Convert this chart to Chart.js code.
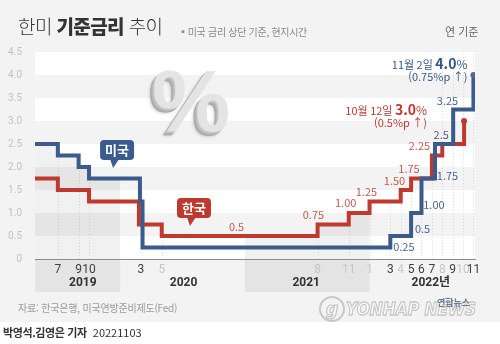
<!DOCTYPE html>
<html lang="ko">
<head>
<meta charset="utf-8">
<script src="https://cdn.jsdelivr.net/npm/chart.js@4.4.0/dist/chart.umd.min.js"></script>
<style>
  html, body { margin: 0; padding: 0; }
  body { width: 500px; height: 344px; position: relative; overflow: hidden; background: #fff;
         font-family: "Noto Sans CJK KR", "Noto Sans", sans-serif; }
  #panelis { position: absolute; left: 0; top: 0; width: 500px; height: 322px; background: #f3f3f3; }
  #grafiks { position: absolute; left: 0; top: 0; }
  .teksts { position: absolute; white-space: nowrap; line-height: 1; }
  #virsraksts { left: 18px; top: 16px; font-size: 19px; color: #333; letter-spacing: -0.6px; }
  #virsraksts b { font-weight: 900; }
  #virsraksts span { font-weight: 300; }
  #piezime { left: 178px; top: 27px; font-size: 10px; color: #8a8a8a; letter-spacing: -0.3px; }
  #vienibas { left: 445px; top: 26px; font-size: 11px; color: #666; }
  #avots { left: 18px; top: 303px; font-size: 10px; color: #9a9a9a; letter-spacing: -0.2px; }
  #autori { left: 3px; top: 327px; font-size: 11px; color: #333; }
  #autori b { font-weight: 700; letter-spacing: -0.4px; }
  #procenti { left: 152px; top: 57px; font-family: "Liberation Sans", sans-serif; font-weight: 700; font-size: 88px;
              color: #e4e4e4;
              text-shadow: -1px 1px 0 #cacaca, -2px 2px 0 #bebebe, -3px 3px 0 #b2b2b2, -4px 4px 0 #a8a8a8, -5px 5px 3px rgba(0,0,0,0.15); }
  #logo { left: 319px; top: 296px; width: 22px; height: 22px; border: 2px solid #c8c8c8; border-radius: 50%;
          font-family: "DejaVu Sans", sans-serif; font-style: italic; font-weight: 700; font-size: 17px;
          color: rgba(255,255,255,0.7); -webkit-text-stroke: 1.2px #c4c4c4; text-align: center; line-height: 22px; }
  #zime { left: 346px; top: 300px; font-family: "DejaVu Sans", sans-serif; font-weight: 700; font-style: italic;
          font-size: 18px; color: rgba(255,255,255,0.6); -webkit-text-stroke: 1.3px #c6c6c6;
          transform: scaleX(0.86); transform-origin: left top; }
  #zime2 { left: 437px; top: 298px; font-size: 9px; font-weight: 700; color: #6b7e98; }
</style>
</head>
<body>
<div id="panelis"></div>
<canvas id="grafiks" width="500" height="344"></canvas>
<div class="teksts" id="virsraksts"><span>한미 </span><b>기준금리</b><span> 추이</span></div>
<div class="teksts" id="piezime">▪미국 금리 상단 기준, 현지시간</div>
<div class="teksts" id="vienibas">연 기준</div>
<div class="teksts" id="procenti">%</div>
<div class="teksts" id="avots">자료: 한국은행, 미국연방준비제도(Fed)</div>
<div class="teksts" id="logo">g</div>
<div class="teksts" id="zime">YONHAP NEWS</div>
<div class="teksts" id="zime2">연합뉴스</div>
<div class="teksts" id="autori"><b>박영석.김영은 기자</b>&nbsp; 20221103</div>
<script>
// Months are counted from January 2019 = 1, so January 2020 = 13 and so on.
const usMonths = [4.8, 7, 9, 10, 14.9, 15.15, 39, 41, 42, 43.3, 45.05, 47];
const usRates = [2.5, 2.25, 2.0, 1.75, 1.25, 0.25, 0.5, 1.0, 1.75, 2.5, 3.25, 4.0];

const krMonths = [4.8, 7, 10, 14.8, 17, 32, 35, 37, 40, 41, 43, 44, 46.1];
const krRates = [1.75, 1.5, 1.25, 0.75, 0.5, 0.75, 1.0, 1.25, 1.5, 1.75, 2.25, 2.5, 3.0];

// Month ticks under the axis.
const tickMonths = [7, 9, 10, 15, 17, 32, 35, 37, 39, 40, 41, 42, 43, 44, 45, 46, 47];
const tickTexts = ["7", "9", "10", "3", "5", "8", "11", "1", "3", "4", "5", "6", "7", "8", "9", "10", "11"];
const faintMonths = [17, 32, 35, 37, 40, 44, 46];

// Years.
const yearNames = ["2019", "2020", "2021", "2022년"];
const yearCenters = [9.4, 19.1, 30.9, 42.9];
const shadedYears = [[4.8, 13], [25, 37]];

// Y-axis ticks.
const rateTicks = [0, 0.5, 1, 1.5, 2, 2.5, 3, 3.5, 4, 4.5];

const zils = "#3b5b8c";
const sarkans = "#c0392f";

// Value labels next to the steps (anchor in month / rate units).
const vertibuUzraksti = [
    { t: "0.5", m: 24.2, v: 0.70, k: "#c45a4e" },
    { t: "0.75", m: 31.6, v: 0.96, k: "#c45a4e" },
    { t: "1.00", m: 34.7, v: 1.22, k: "#c45a4e" },
    { t: "1.25", m: 36.7, v: 1.46, k: "#c45a4e" },
    { t: "1.50", m: 39.4, v: 1.70, k: "#c45a4e" },
    { t: "1.75", m: 40.8, v: 1.96, k: "#c45a4e" },
    { t: "2.25", m: 41.8, v: 2.46, k: "#c45a4e" },
    { t: "0.25", m: 40.3, v: 0.26, k: "#4b6590" },
    { t: "0.5", m: 42.1, v: 0.65, k: "#4b6590" },
    { t: "1.00", m: 43.2, v: 1.17, k: "#4b6590" },
    { t: "1.75", m: 44.5, v: 1.80, k: "#4b6590" },
    { t: "2.5", m: 43.9, v: 2.70, k: "#57568a" },
    { t: "3.25", m: 44.5, v: 3.43, k: "#4b6590" }
];

// Callout boxes.
const izcelumi = [
    { t: "미국", m: 12.7, v: 2.37, k: zils },
    { t: "한국", m: 20.1, v: 1.11, k: sarkans }
];

// Function returns the step value of a series at a month.
function vertibaMenesi(menesi, vertibas, m) {
    let rezultats = vertibas[0];
    for (let i = 0; i < menesi.length; i++) {
        if (menesi[i] <= m) rezultats = vertibas[i];
    }
    return rezultats;
}

function punkti(menesi, vertibas) {
    return menesi.map((m, i) => ({ x: m, y: vertibas[i] }));
}

// Background plugin: stripes, shaded years, grid lines, year names.
const fonaSpraudnis = {
    id: "fons",
    beforeDraw(chart) {
        const { ctx, chartArea, scales } = chart;
        const x = scales.x;
        ctx.save();
        // Shaded year blocks below the axis (drawn before the tick labels).
        ctx.fillStyle = "#e4e4e4";
        shadedYears.forEach(([no, lidz]) => {
            const a = x.getPixelForValue(no);
            const b = x.getPixelForValue(lidz);
            ctx.fillRect(a, chartArea.bottom, b - a, 33);
        });
        ctx.restore();
    },
    beforeDatasetsDraw(chart) {
        const { ctx, chartArea, scales } = chart;
        const x = scales.x;
        const y = scales.y;
        ctx.save();

        // White bands every other half point.
        ctx.fillStyle = "#ffffff";
        for (let i = 0; i < rateTicks.length - 1; i += 2) {
            const augsa = y.getPixelForValue(rateTicks[i + 1]);
            const apaksa = y.getPixelForValue(rateTicks[i]);
            ctx.fillRect(chartArea.left, augsa, chartArea.right - chartArea.left, apaksa - augsa);
        }

        // Shaded area under the upper line in these years.
        shadedYears.forEach(([no, lidz], n) => {
            const meta = chart.getDatasetMeta(n === 0 ? 0 : 1);
            const a = x.getPixelForValue(no);
            const b = x.getPixelForValue(lidz);
            ctx.save();
            ctx.beginPath();
            ctx.rect(a, chartArea.top, b - a, chartArea.bottom - chartArea.top);
            ctx.clip();
            const p = meta.data;
            ctx.beginPath();
            ctx.moveTo(p[0].x, chartArea.bottom);
            ctx.lineTo(p[0].x, p[0].y);
            for (let i = 1; i < p.length; i++) {
                ctx.lineTo(p[i].x, p[i - 1].y);
                ctx.lineTo(p[i].x, p[i].y);
            }
            ctx.lineTo(p[p.length - 1].x, chartArea.bottom);
            ctx.closePath();
            ctx.fillStyle = "rgba(0,0,0,0.055)";
            ctx.fill();
            ctx.restore();
        });

        // Dotted lines from the axis up to the steps.
        ctx.strokeStyle = "rgba(0,0,0,0.12)";
        ctx.lineWidth = 1;
        ctx.setLineDash([1, 2]);
        tickMonths.forEach(m => {
            let augsa = chartArea.top;
            if (m < 44) {
                const v = Math.max(
                    vertibaMenesi(usMonths, usRates, m), vertibaMenesi(usMonths, usRates, m - 0.2),
                    vertibaMenesi(krMonths, krRates, m), vertibaMenesi(krMonths, krRates, m - 0.2));
                augsa = y.getPixelForValue(v);
            }
            const px = Math.round(x.getPixelForValue(m)) + 0.5;
            ctx.beginPath();
            ctx.moveTo(px, chartArea.bottom);
            ctx.lineTo(px, augsa);
            ctx.stroke();
        });
        ctx.setLineDash([]);

        // Year names.
        ctx.fillStyle = "#333";
        ctx.font = "700 12px Roboto, 'Noto Sans CJK KR'";
        ctx.textAlign = "center";
        ctx.textBaseline = "middle";
        yearNames.forEach((t, i) => {
            ctx.fillText(t, x.getPixelForValue(yearCenters[i]), chartArea.bottom + 24);
        });
        ctx.restore();
    }
};

// Foreground plugin: value labels, callouts and the final notes.
const uzrakstuSpraudnis = {
    id: "uzraksti",
    afterDatasetsDraw(chart) {
        const { ctx, scales } = chart;
        const x = scales.x;
        const y = scales.y;
        ctx.save();
        ctx.textAlign = "center";
        ctx.textBaseline = "middle";
        ctx.font = "400 11px 'Noto Sans CJK KR'";
        vertibuUzraksti.forEach(u => {
            ctx.fillStyle = u.k;
            ctx.fillText(u.t, x.getPixelForValue(u.m), y.getPixelForValue(u.v));
        });

        // Callouts with a tail.
        izcelumi.forEach(c => {
            const cx = x.getPixelForValue(c.m);
            const cy = y.getPixelForValue(c.v);
            ctx.fillStyle = c.k;
            ctx.beginPath();
            ctx.roundRect(cx - 17, cy - 10, 34, 20, 4);
            ctx.fill();
            ctx.beginPath();
            ctx.moveTo(cx - 7, cy + 9);
            ctx.lineTo(cx + 2, cy + 9);
            ctx.lineTo(cx - 4, cy + 18);
            ctx.closePath();
            ctx.fill();
            ctx.fillStyle = "#fff";
            ctx.font = "700 13px 'Noto Sans CJK KR'";
            ctx.fillText(c.t, cx, cy + 0.5);
        });

        // Final notes next to the end points.
        const piezimes = [
            { meta: chart.getDatasetMeta(0), k: "#34588a", d: "11월 2일 ", v: "4.0", s: "(0.75%p ↑)", dx: -6 },
            { meta: chart.getDatasetMeta(1), k: "#c0392f", d: "10월 12일 ", v: "3.0", s: "(0.5%p ↑)", dx: -37 }
        ];
        ctx.textAlign = "left";
        piezimes.forEach(p => {
            const pt = p.meta.data[p.meta.data.length - 1];
            const labaMala = pt.x + p.dx;
            const rinda1 = pt.y - 11;
            ctx.fillStyle = p.k;
            ctx.font = "400 11px 'Noto Sans CJK KR'";
            const w1 = ctx.measureText(p.d).width;
            ctx.font = "700 14px 'Noto Sans CJK KR'";
            const w2 = ctx.measureText(p.v).width;
            ctx.font = "400 12px 'Noto Sans CJK KR'";
            const w3 = ctx.measureText("%").width;
            let sx = labaMala - w1 - w2 - w3;
            ctx.font = "400 11px 'Noto Sans CJK KR'";
            ctx.fillText(p.d, sx, rinda1 + 1);
            sx += w1;
            ctx.font = "700 14px 'Noto Sans CJK KR'";
            ctx.fillText(p.v, sx, rinda1);
            sx += w2;
            ctx.font = "400 12px 'Noto Sans CJK KR'";
            ctx.fillText("%", sx, rinda1 + 0.5);
            ctx.font = "400 11px 'Noto Sans CJK KR'";
            ctx.textAlign = "right";
            ctx.fillText(p.s, labaMala, pt.y + 2);
            ctx.textAlign = "left";
        });
        ctx.restore();
    }
};

function pedejaisPunkts(krasa) {
    return {
        pointRadius: c => (c.dataIndex === c.dataset.data.length - 1 ? 3 : 0),
        pointBackgroundColor: krasa,
        pointBorderWidth: 0,
        pointHoverRadius: 0
    };
}

const konteksts = document.getElementById("grafiks").getContext("2d");

new Chart(konteksts, {
    type: "line",
    data: {
        datasets: [
            {
                label: "미국",
                data: punkti(usMonths, usRates),
                borderColor: zils,
                borderWidth: 4,
                stepped: true,
                borderJoinStyle: "miter",
                borderCapStyle: "butt",
                fill: false,
                ...pedejaisPunkts("#56698a")
            },
            {
                label: "한국",
                data: punkti(krMonths, krRates),
                borderColor: sarkans,
                borderWidth: 4,
                stepped: true,
                borderJoinStyle: "miter",
                borderCapStyle: "butt",
                fill: false,
                ...pedejaisPunkts(sarkans)
            }
        ]
    },
    options: {
        responsive: false,
        animation: false,
        events: [],
        layout: { padding: { top: 52, right: 25, left: 0, bottom: 0 } },
        plugins: { legend: { display: false }, tooltip: { enabled: false } },
        scales: {
            x: {
                type: "linear",
                min: 4.8,
                max: 47.15,
                afterFit: s => { s.height = 85; },
                afterBuildTicks: s => { s.ticks = tickMonths.map(v => ({ value: v })); },
                grid: { display: false },
                border: { display: true, color: "#8c8c8c", width: 1 },
                ticks: {
                    autoSkip: false,
                    maxRotation: 0,
                    padding: -4,
                    font: { family: "Roboto", size: 12 },
                    color: c => (faintMonths.includes(c.tick.value) ? "#c6c6c6" : "#404040"),
                    callback: (v) => tickTexts[tickMonths.indexOf(v)]
                }
            },
            y: {
                min: 0,
                max: 4.5,
                afterFit: s => { s.width = 35; },
                afterBuildTicks: s => { s.ticks = rateTicks.map(v => ({ value: v })); },
                grid: { display: false },
                border: { display: false },
                ticks: {
                    padding: 5,
                    font: { family: "Roboto", size: 10 },
                    color: "#c2c2c2",
                    callback: v => (v === 0 ? "0" : v.toFixed(1))
                }
            }
        }
    },
    plugins: [fonaSpraudnis, uzrakstuSpraudnis]
});
</script>
</body>
</html>
